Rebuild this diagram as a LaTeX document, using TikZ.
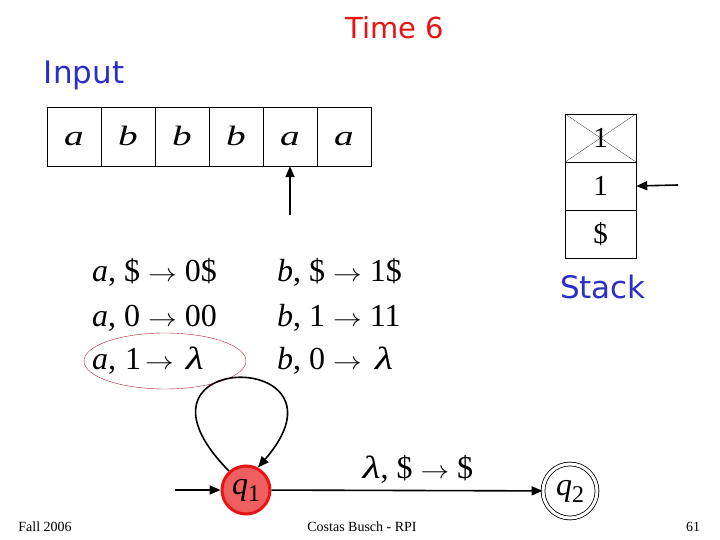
\documentclass[tikz,border=0pt]{standalone}
\usepackage{fontspec}
\usepackage{graphicx}
\setmainfont{Liberation Serif}
\newfontfamily\slidefont{DejaVu Sans}
\usetikzlibrary{arrows.meta}
\definecolor{slidered}{RGB}{230,20,20}
\definecolor{slideblue}{RGB}{45,45,200}
\definecolor{statefill}{RGB}{240,95,95}
\definecolor{ringred}{RGB}{170,40,50}
\newcommand\qsub[2]{\textit{#1}\lower7pt\hbox{\fontsize{24}{24}\selectfont#2}}
\newcommand\rarr{\scalebox{1.15}[1]{$\rightarrow$}}
\newcommand\tto{\hspace{8pt}\rarr\hspace{8pt}}
\newcommand\lam{\scalebox{1.3}[1]{\textit{λ}}}
\tikzset{
  cell/.style={draw,minimum width=54pt,minimum height=59pt,inner sep=0pt,text height=18pt,text depth=0pt,font=\fontsize{28}{28}\selectfont\itshape},
  stk/.style={draw,minimum width=71pt,minimum height=48pt,inner sep=0pt,font=\fontsize{29}{29}\selectfont},
  title/.style={inner sep=0pt,font=\slidefont\fontsize{31}{31}\selectfont},
  trans/.style={anchor=base west,inner sep=0pt,font=\fontsize{32}{32}\selectfont},
  foot/.style={inner sep=0pt,font=\fontsize{14}{14}\selectfont},
  state/.style={circle,inner sep=0pt,minimum size=48pt,font=\fontsize{32}{32}\selectfont},
  arr/.style={-{Triangle[length=11pt,width=9pt]},line width=1.6pt},
}
\begin{document}
\begin{tikzpicture}[x=1pt,y=1pt]
\useasboundingbox (0,0) rectangle (720,540);
\node[title,text=slidered,font=\slidefont\fontsize{29}{29}\selectfont] (time) at (395,512) {Time 6};
\node[title,text=slideblue] (input) at (84,465) {Input};
% tape
\foreach \s [count=\i] in {a,b,b,b,a,a}
  \node[cell] (t\i) at (20+54*\i,403.5) {\scalebox{1.4}[1]{\s}};
\coordinate (head) at (290,325);
\draw[arr] (head) -- (t5.south);
% stack
\node[stk] (s1) at (600.5,402) {1};
\node[stk] (s2) at (600.5,354) {1};
\node[stk] (s3) at (600.5,306) {\$};
\draw[very thin] (s1.north west) -- (s1.south east) (s1.north east) -- (s1.south west);
\coordinate (top) at (678,355);
\draw[arr] (top) -- (s2.east);
\node[title,text=slideblue] (stack) at (603,253) {Stack};
% transitions
\node[trans] (ra1) at (92,258) {\textit{a}, \$\tto0\$};
\node[trans] (ra2) at (92,213) {\textit{a}, 0\tto00};
\node[trans] (ra3) at (92,170) {\textit{a},\hspace{9pt}1\hspace{4pt}\rarr\hspace{12pt}\lam};
\node[trans] (rb1) at (277,258) {\textit{b}, \$\tto1\$};
\node[trans] (rb2) at (277,213) {\textit{b}, 1\tto11};
\node[trans] (rb3) at (277,170) {\textit{b}, 0\tto\,\lam};
\draw[ringred,thin] (165,179) ellipse [x radius=81,y radius=28];
% states
\node[state,draw=slidered,fill=statefill,line width=3pt] (q1) at (246,50) {\qsub{q}{1}};
\node[state,draw,minimum size=54pt,double,double distance=3pt,line width=.8pt] (q2) at (570,49) {\qsub{q}{2}};
\coordinate (start) at (175,50);
\draw[arr] (start) -- (q1);
\draw[arr] (q1) -- (q2) node[trans,pos=.54,anchor=base,yshift=12pt] (lab) {\lam, \$\tto\$};
\draw[arr] (q1.132) .. controls (108,192) and (362,192) .. (q1.62);
% footer
\node[foot] (fall) at (45,13) {Fall 2006};
\node[foot] (author) at (362,13) {Costas Busch - RPI};
\node[foot] (page) at (693,13) {61};
\end{tikzpicture}
\end{document}
